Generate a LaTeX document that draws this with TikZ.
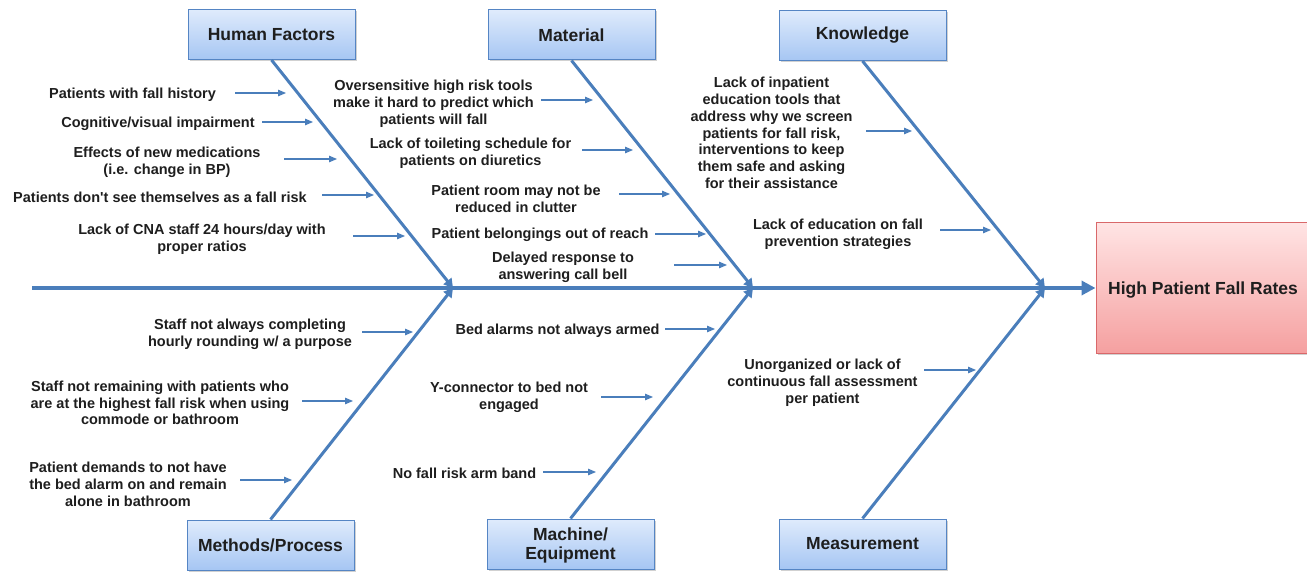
\documentclass[tikz,border=0pt]{standalone}
\usepackage{fontspec}
\setmainfont{Liberation Sans}
\newfontfamily\plainapos{Liberation Sans}
\usetikzlibrary{arrows.meta,shadows}
\definecolor{bonec}{HTML}{4A7EBB}
\definecolor{boxline}{HTML}{5585C4}
\definecolor{boxtop}{HTML}{DFEBFC}
\definecolor{boxbot}{HTML}{A6C6F3}
\definecolor{fxline}{HTML}{D9686A}
\definecolor{fxtop}{HTML}{FFE4E4}
\definecolor{fxbot}{HTML}{F5A0A0}
\definecolor{txt}{HTML}{1E1E1E}
\begin{document}
\begin{tikzpicture}[x=1pt,y=-1pt,
  cat/.style={draw=boxline, line width=1pt, top color=boxtop, bottom color=boxbot,
    minimum width=167pt, minimum height=50pt, inner sep=0pt, align=center, text=txt,
    font=\fontsize{17.5}{19}\selectfont\bfseries,
    drop shadow={shadow xshift=1.5pt, shadow yshift=-1.5pt, opacity=0.3, fill=black!60}},
  effect/.style={draw=fxline, line width=1pt, top color=fxtop, bottom color=fxbot,
    minimum width=214pt, minimum height=130pt, inner sep=0pt, align=center, text=txt,
    font=\fontsize{17.5}{19}\selectfont\bfseries,
    drop shadow={shadow xshift=1.5pt, shadow yshift=-1.5pt, opacity=0.3, fill=black!60}},
  cause/.style={font=\fontsize{14.5}{16.8}\selectfont\bfseries, align=center, text=txt, inner sep=0pt},
  carrow/.style={draw=bonec, line width=1.1pt, -{Triangle[length=8pt,width=6.5pt]}},
  bone/.style={draw=bonec, line width=3pt, -{Triangle[length=9pt,width=10pt]}},
  spine/.style={draw=bonec, line width=3.5pt, -{Triangle[length=14pt,width=14pt]}}
]
\clip (0,0) rectangle (1307,572);

% category boxes and effect
\node[cat] (hf) at (271.5,34.5) {Human Factors};
\node[cat] (mat) at (571.5,35) {Material};
\node[cat] (kn) at (862.5,35.5) {Knowledge};
\node[cat] (mp) at (270.5,545) {Methods/Process};
\node[cat, text depth=0pt] (me) at (570.5,544) {Machine/\\Equipment};
\node[cat] (ms) at (862.5,544) {Measurement};
\node[effect, text depth=0pt] (fx) at (1203,288) {High Patient Fall Rates};

% spine and bones
\coordinate (spL) at (32,288);
\coordinate (j1) at (453,288);
\coordinate (j2) at (753,288);
\coordinate (j3) at (1045,288);
\draw[spine] (spL) -- (fx.west);
\draw[bone] (hf.south) -- (j1);
\draw[bone] (mat.south) -- (j2);
\draw[bone] (kn.south) -- (j3);
\draw[bone] (mp.north) -- (j1);
\draw[bone] (me.north) -- (j2);
\draw[bone] (ms.north) -- (j3);

% cause texts
\node[cause] (h1) at (132.5,94.5) {Patients with fall history};
\node[cause] (h2) at (158,123.5) {Cognitive/visual impairment};
\node[cause] (h3) at (167,162) {Effects of new medications\\(i.e. change in BP)};
\node[cause] (h4) at (160,197.5) {Patients don{\plainapos'}t see themselves as a fall risk};
\node[cause] (h5) at (202,239.5) {Lack of CNA staff 24 hours/day with\\proper ratios};

\node[cause] (m1) at (433.5,104) {Oversensitive high risk tools\\make it hard to predict which\\patients will fall};
\node[cause] (m2) at (470.5,153.5) {Lack of toileting schedule for\\patients on diuretics};
\node[cause] (m3) at (516,199) {Patient room may not be\\reduced in clutter};
\node[cause] (m4) at (540,234.5) {Patient belongings out of reach};
\node[cause] (m5) at (563,267) {Delayed response to\\answering call bell};

\node[cause] (k1) at (771.5,133) {Lack of inpatient\\education tools that\\address why we screen\\patients for fall risk,\\interventions to keep\\them safe and asking\\for their assistance};
\node[cause] (k2) at (838,234.5) {Lack of education on fall\\prevention strategies};

\node[cause] (p1) at (250,334) {Staff not always completing\\hourly rounding w/ a purpose};
\node[cause] (p2) at (160,403) {Staff not remaining with patients who\\are at the highest fall risk when using\\commode or bathroom};
\node[cause] (p3) at (128,484.5) {Patient demands to not have\\the bed alarm on and remain\\alone in bathroom};

\node[cause] (e1) at (557.5,330.5) {Bed alarms not always armed};
\node[cause] (e2) at (509,397.5) {Y-connector to bed not\\engaged};
\node[cause] (e3) at (464.5,473.5) {No fall risk arm band};

\node[cause] (s1) at (822.5,382.5) {Unorganized or lack of\\continuous fall assessment\\per patient};

% cause arrows
\foreach \n/\a/\b/\y in {h1/235/286/93, h2/262/313/122, h3/284/337/159, h4/322/374/195, h5/353/405/236,
  m1/541/593/100, m2/582/633/150, m3/619/670/194, m4/655/706/234, m5/674/727/265,
  k1/866/912/131, k2/940/991/230,
  p1/362/413/332, p2/302/353/401, p3/240/292/480,
  e1/665/715/329, e2/601/653/397, e3/543/596/472,
  s1/924/976/370}{
  \coordinate (\n s) at (\a,\y);
  \coordinate (\n e) at (\b,\y);
  \draw[carrow] (\n s) -- (\n e);
}
\end{tikzpicture}
\end{document}
